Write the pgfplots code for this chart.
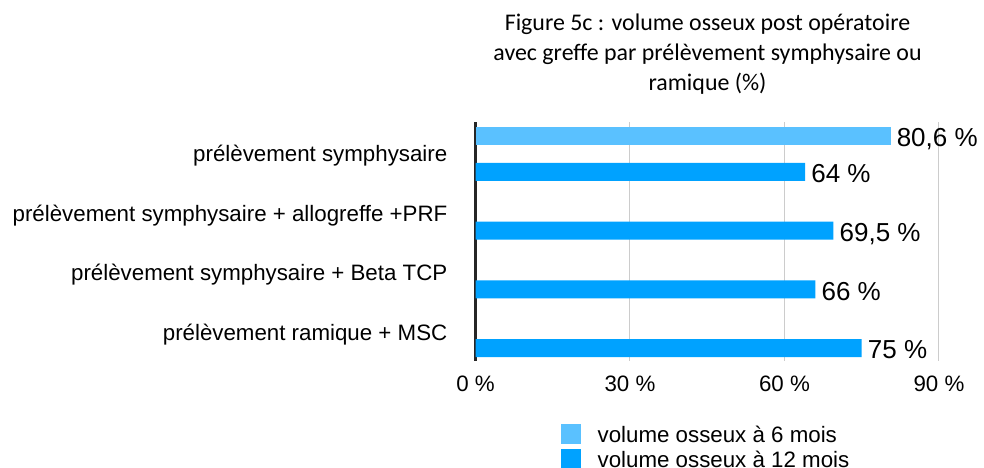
\documentclass[border=0pt]{standalone}
\usepackage{pgfplots}
\pgfplotsset{compat=1.18}
\usepackage{fontspec}
\setmainfont{Liberation Sans}
\newfontfamily\titlefont{Carlito}
\definecolor{sixm}{RGB}{90,193,255}
\definecolor{twelvem}{RGB}{0,162,255}
\definecolor{gridc}{RGB}{204,204,204}
\newcommand\lab{\fontsize{22.3bp}{26bp}\selectfont}
\newcommand\vlab{\fontsize{26bp}{30bp}\selectfont}
\newcommand\tlab{\fontsize{23.9bp}{29.7bp}\selectfont\titlefont}
\pgfplotsset{mylegend/.style={legend image code/.code={\fill[##1] (0bp,-9bp) rectangle (20bp,11bp);}}}
\begin{document}
\begin{tikzpicture}
\begin{axis}[
  at={(475.5bp,107bp)}, anchor=south west,
  scale only axis, width=463.5bp, height=238.7bp,
  xmin=0, xmax=90, ymin=-0.553, ymax=3.511, y dir=reverse,
  xtick={0,30,60,90}, xticklabels={0 \%,30 \%,60 \%,90 \%},
  ytick={0.02,1.04,2.04,3.06},
  yticklabels={prélèvement symphysaire,prélèvement symphysaire + allogreffe +PRF,prélèvement symphysaire + Beta TCP,prélèvement ramique + MSC},
  major tick length=0,
  xmajorgrids, grid style={gridc, line width=1bp},
  axis line style={draw=none},
  tick label style={font=\lab},
  yticklabel style={anchor=east, inner sep=0pt, xshift=-28bp},
  xticklabel style={anchor=base, inner sep=0pt, yshift=-30.7bp},
  extra x ticks={0}, extra x tick labels={},
  extra x tick style={grid style={black!85, line width=2bp}},
  legend style={at={(axis description cs:0.1838,-0.2639)}, anchor=north west,
    draw=none, fill=none, inner sep=0pt, outer sep=0pt, row sep=5.3bp,
    font=\lab, nodes={inner sep=0pt},
    /tikz/every odd column/.append style={column sep=17bp}},
  legend cell align=left,
  every node near coord/.append style={font=\vlab, text=black, anchor=base west, inner sep=0pt, xshift=6bp, yshift=-10.8bp},
]
% 6-month bar sits above the category centre, 12-month bars below it
\addplot[xbar, bar width=0.306, bar shift=0pt, fill=sixm, draw=none, mylegend,
  point meta=x, nodes near coords={\pgfmathprintnumber[use comma,assume math mode=true]{\pgfplotspointmeta} \%}]
  coordinates {(80.6,-0.32)};
\addlegendentry{volume osseux à 6 mois}
\addplot[xbar, bar width=0.306, bar shift=0pt, fill=twelvem, draw=none, mylegend,
  point meta=x, nodes near coords={\pgfmathprintnumber[use comma,assume math mode=true]{\pgfplotspointmeta} \%}]
  coordinates {(64,0.29) (69.5,1.29) (66,2.29) (75,3.29)};
\addlegendentry{volume osseux à 12 mois}
\end{axis}
\node[font=\tlab, anchor=base] at (707.5bp,437bp) {Figure 5c : volume osseux post opératoire};
\node[font=\tlab, anchor=base] at (707.5bp,407.3bp) {avec greffe par prélèvement symphysaire ou};
\node[font=\tlab, anchor=base] at (707.5bp,377.6bp) {ramique (\%)};
\pgfresetboundingbox
\path[use as bounding box] (0,0) rectangle (984bp,468bp);
\end{tikzpicture}
\end{document}
